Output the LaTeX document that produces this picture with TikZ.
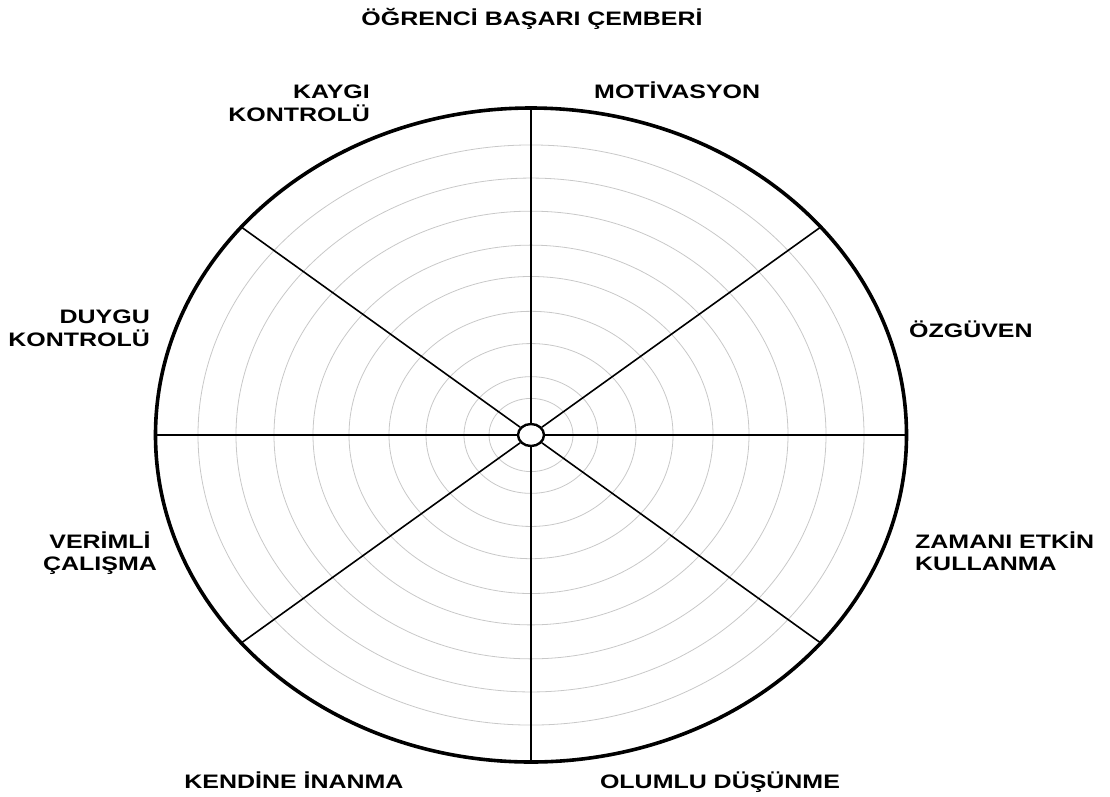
\documentclass[tikz,border=0pt]{standalone}
\usepackage{fontspec}
\usepackage{tikz}
\usetikzlibrary{calc,shapes.geometric}
\newfontfamily\wheelfont{Liberation Sans}[FakeStretch=1.28]
\definecolor{ringgray}{RGB}{200,200,200}
\newcommand{\twolines}[3]{\begin{tabular}[t]{@{}#1@{}}#2\\#3\end{tabular}}

\begin{document}
\begin{tikzpicture}[
  x=1pt, y=-1pt,
  rim/.style={draw=black, line width=3.6pt},
  ring/.style={draw=ringgray, line width=0.8pt},
  spoke/.style={draw=black, line width=1.6pt},
  hub/.style={
    ellipse,
    draw=black,
    fill=white,
    line width=2.4pt,
    minimum width=26pt,
    minimum height=22pt,
    inner sep=0pt
  },
  lbl/.style={font=\wheelfont\bfseries\fontsize{19.5}{22}\selectfont, inner sep=0pt}
]
\useasboundingbox (0,0) rectangle (1110,796);
\coordinate (ctr) at (531,435);

% rings
\foreach \r in {42,67,105,142,182,218,257,295,333}
  \draw[ring] (ctr) ellipse [x radius={\r*1pt}, y radius={0.871*\r*1pt}];

% points on the rim
\foreach \a [count=\i] in {90,39.5,0,-39.5,-90,-140.5,180,140.5}
  \coordinate (rim\i) at ($(ctr)+({375.5*cos(\a)},{-327*sin(\a)})$);

\node[hub] (hub) at (ctr) {};
\foreach \i in {1,...,8}
  \draw[spoke] (hub) -- (rim\i);
\draw[rim] (ctr) ellipse [x radius=375.5pt, y radius=327pt];

% labels
\node[lbl, anchor=base] (title) at (532,25) {ÖĞRENCİ BAŞARI ÇEMBERİ};
\node[lbl, anchor=base east] (kaygi) at (370,98) {\twolines{r}{KAYGI}{KONTROLÜ}};
\node[lbl, anchor=base west] (motiv) at (594,98) {MOTİVASYON};
\node[lbl, anchor=base east] (duygu) at (150,323) {\twolines{r}{DUYGU}{KONTROLÜ}};
\node[lbl, anchor=base west] (ozguven) at (909,337) {ÖZGÜVEN};
\node[lbl, anchor=base] (verimli) at (100,548) {\twolines{c}{VERİMLİ}{ÇALIŞMA}};
\node[lbl, anchor=base west] (zaman) at (915,548) {\twolines{l}{ZAMANI ETKİN}{KULLANMA}};
\node[lbl, anchor=base] (kendine) at (294,788) {KENDİNE İNANMA};
\node[lbl, anchor=base] (olumlu) at (720,788) {OLUMLU DÜŞÜNME};
\end{tikzpicture}
\end{document}
